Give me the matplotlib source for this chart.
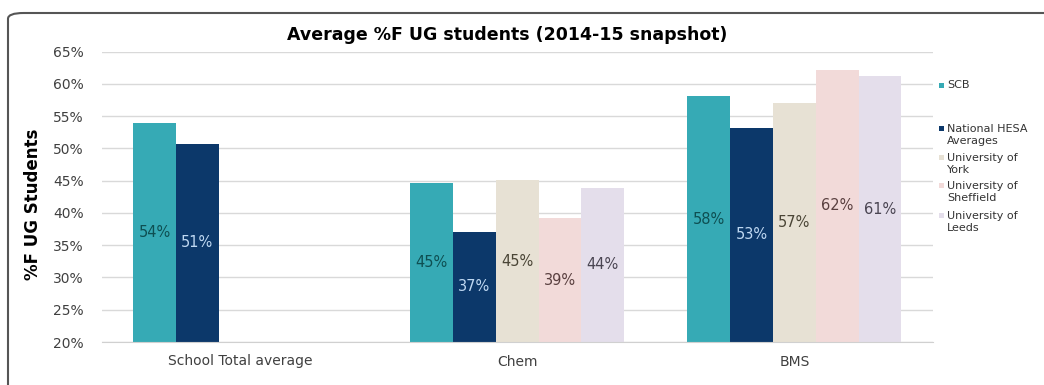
import numpy as np
import matplotlib
matplotlib.use('Agg')
import matplotlib.pyplot as plt
from matplotlib.patches import FancyBboxPatch, Rectangle

# Average share of female UG students per school, 2014-15
categories = ['School Total average', 'Chem', 'BMS']
series = ['SCB', 'National HESA\nAverages', 'University of\nYork',
          'University of\nSheffield', 'University of\nLeeds']
scb = [53.9, 44.7, 58.1]
hesa = [50.7, 37.1, 53.2]
york = [np.nan, 45.1, 57.1]
sheffield = [np.nan, 39.2, 62.2]
leeds = [np.nan, 43.9, 61.2]
yticks = [20, 25, 30, 35, 40, 45, 50, 55, 60, 65]

values = [scb, hesa, york, sheffield, leeds]
colors = ['#36AAB5', '#0C386A', '#E7E1D4', '#F2DAD9', '#E4DEEB']
label_colors = ['#0E4F52', '#BFD8F2', '#4A4536', '#5A4040', '#4A4552']

W, H = 1044, 385
fig = plt.figure(figsize=(W / 100, H / 100), dpi=100)
ax = fig.add_axes([101.5 / W, 1 - 342 / H, (933 - 101.5) / W, (342 - 51.7) / H])

bottom = 20
w = 0.1545
x = np.arange(len(categories))
for i, (vals, c, lc) in enumerate(zip(values, colors, label_colors)):
    vals = np.array(vals, dtype=float)
    pos = x + (i - 2) * w
    ok = ~np.isnan(vals)
    ax.bar(pos[ok], vals[ok] - bottom, bottom=bottom, width=w, color=c,
           linewidth=0, zorder=2)
    for p, v in zip(pos[ok], vals[ok]):
        ax.text(p, (v + bottom) / 2, '{:.0f}%'.format(v), ha='center',
                va='center', fontsize=10.5, color=lc, zorder=3)

ax.set_xlim(-0.5, 2.5)
ax.set_ylim(20, 65)
ax.set_yticks(yticks)
ax.set_yticklabels(['{}%'.format(t) for t in yticks])
ax.set_xticks(x)
ax.set_xticklabels(categories)
ax.tick_params(axis='both', length=0, labelsize=10, colors='#404040')
ax.tick_params(axis='y', pad=13)
ax.tick_params(axis='x', pad=9)
ax.grid(axis='y', color='#D9D9D9', linewidth=1, zorder=0)
for s in ['top', 'right', 'left']:
    ax.spines[s].set_visible(False)
ax.spines['bottom'].set_color('#D0D0D0')

fig.text(507 / W, 1 - 35 / H, 'Average %F UG students (2014-15 snapshot)',
         ha='center', va='center', fontsize=12.5, fontweight='bold')
fig.text(33 / W, 1 - 204 / H, '%F UG Students', rotation=90, ha='center',
         va='center', fontsize=12, fontweight='bold')

# legend drawn by hand on the right
leg_y = [85, 135, 164, 192, 222]
for name, c, yy in zip(series, colors, leg_y):
    nlines = name.count('\n') + 1
    ytop = yy - (nlines - 1) * 6.5
    fig.add_artist(Rectangle((939 / W, 1 - (ytop + 2.5) / H), 5 / W, 5 / H,
                             transform=fig.transFigure, color=c, linewidth=0))
    fig.text(947 / W, 1 - yy / H, name, ha='left', va='center', fontsize=8,
             color='#333333', linespacing=1.15)

# chart border
fig.add_artist(FancyBboxPatch((8 / W, -0.05), 1.1, 1 - 13 / H + 0.05,
                              boxstyle='round,pad=0,rounding_size=0.015',
                              transform=fig.transFigure, facecolor='none',
                              edgecolor='#555555', linewidth=1.5))

fig.savefig('out.png', dpi=100)
